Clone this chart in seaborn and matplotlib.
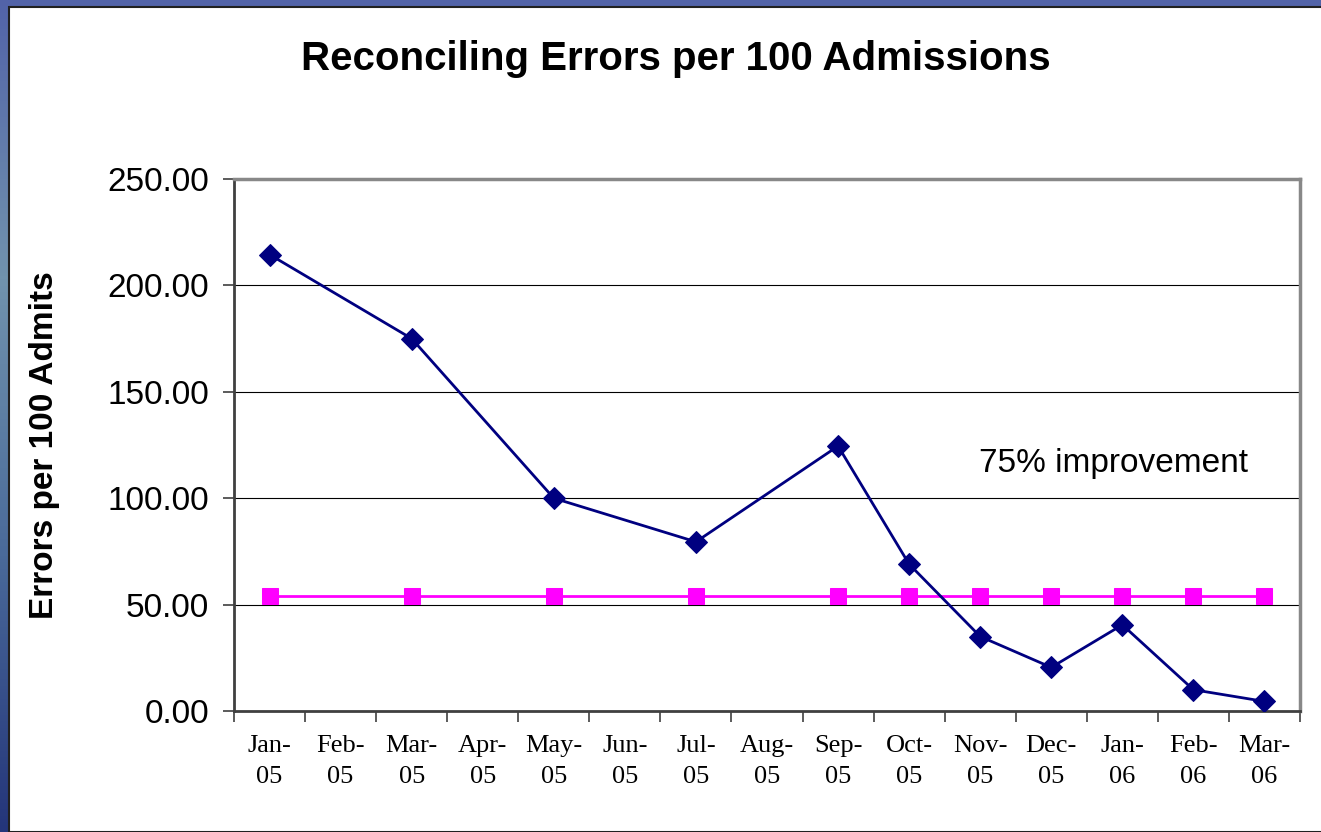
import numpy as np
import pandas as pd
import seaborn as sns
import matplotlib.pyplot as plt
from matplotlib.patches import Rectangle

months = ['Jan-\n05', 'Feb-\n05', 'Mar-\n05', 'Apr-\n05', 'May-\n05', 'Jun-\n05', 'Jul-\n05',
          'Aug-\n05', 'Sep-\n05', 'Oct-\n05', 'Nov-\n05', 'Dec-\n05', 'Jan-\n06', 'Feb-\n06', 'Mar-\n06']
errors = [214.5, None, 175.0, None, 100.0, None, 79.5, None, 124.5, 69.0, 35.0, 20.5, 40.5, 10.0, 4.5]
goal = [54.0, None, 54.0, None, 54.0, None, 54.0, None, 54.0, 54.0, 54.0, 54.0, 54.0, 54.0, 54.0]

df = pd.DataFrame({'pos': range(len(months)), 'errors': errors, 'goal': goal})

sns.set_style('white')
plt.rcParams['font.family'] = ['Liberation Sans', 'DejaVu Sans']
plt.rcParams['text.color'] = 'black'
plt.rcParams['axes.labelcolor'] = 'black'
plt.rcParams['xtick.color'] = 'black'
plt.rcParams['ytick.color'] = 'black'

fig = plt.figure(figsize=(13.21, 8.32), dpi=100)

# slide background: blue gradient strips on the left and top
bg = fig.add_axes([0, 0, 1, 1], zorder=-2)
grad = np.linspace(0, 1, 256).reshape(-1, 1)
bg.imshow(grad, aspect='auto', cmap=sns.blend_palette(['#5263a8', '#7193ad', '#4a6a9a', '#24357a'], as_cmap=True),
          extent=[0, 1, 0, 1])
bg.axis('off')
fig.patches.append(Rectangle((9 / 1321, 0), 1, 1 - 7 / 832, transform=fig.transFigure,
                             facecolor='white', edgecolor='#202020', linewidth=1.5, zorder=-1))

ax = fig.add_axes([234 / 1321, 1 - 711 / 832, (1300 - 234) / 1321, (711 - 179) / 832])
ax.set_facecolor('white')

d1 = df.dropna(subset=['errors'])
d2 = df.dropna(subset=['goal'])
sns.lineplot(data=d2, x='pos', y='goal', ax=ax, color='#ff00ff', linewidth=2,
             marker='s', markersize=11, markeredgecolor='#ff00ff', zorder=3)
sns.lineplot(data=d1, x='pos', y='errors', ax=ax, color='#000080', linewidth=2,
             marker='D', markersize=11, markeredgecolor='#000080', zorder=4)

ax.set_xlim(-0.5, len(months) - 0.5)
ax.set_ylim(0, 250)
ax.set_yticks(np.arange(0, 251, 50))
ax.set_yticklabels([f'{v:.2f}' for v in np.arange(0, 251, 50)], fontsize=24)
ax.yaxis.grid(True, color='black', linewidth=0.8)
ax.xaxis.grid(False)

ax.set_xticks(np.arange(-0.5, len(months), 1))
ax.set_xticklabels([])
ax.set_xticks(range(len(months)), minor=True)
ax.set_xticklabels(months, minor=True, fontsize=19, family=['Liberation Serif'], linespacing=1.55)
ax.tick_params(axis='x', which='major', direction='out', length=8, width=1.2, color='#404040', bottom=True)
ax.tick_params(axis='x', which='minor', length=0, pad=17)
ax.tick_params(axis='y', direction='out', length=8, width=1.2, color='#404040', left=True, pad=10)

for side in ['top', 'right']:
    ax.spines[side].set_color('#888888')
    ax.spines[side].set_linewidth(2.5)
for side in ['left', 'bottom']:
    ax.spines[side].set_color('#404040')
    ax.spines[side].set_linewidth(2)

ax.set_xlabel('')
ax.set_ylabel('Errors per 100 Admits', fontsize=24, fontweight='bold', labelpad=34)
ax.text(0.8246, 0.466, '75% improvement', transform=ax.transAxes, fontsize=24, ha='center', va='center')

fig.text(676 / 1321, 1 - 59 / 832, 'Reconciling Errors per 100 Admissions', fontsize=29,
         fontweight='bold', ha='center', va='center')

fig.savefig('out.png', dpi=100)
